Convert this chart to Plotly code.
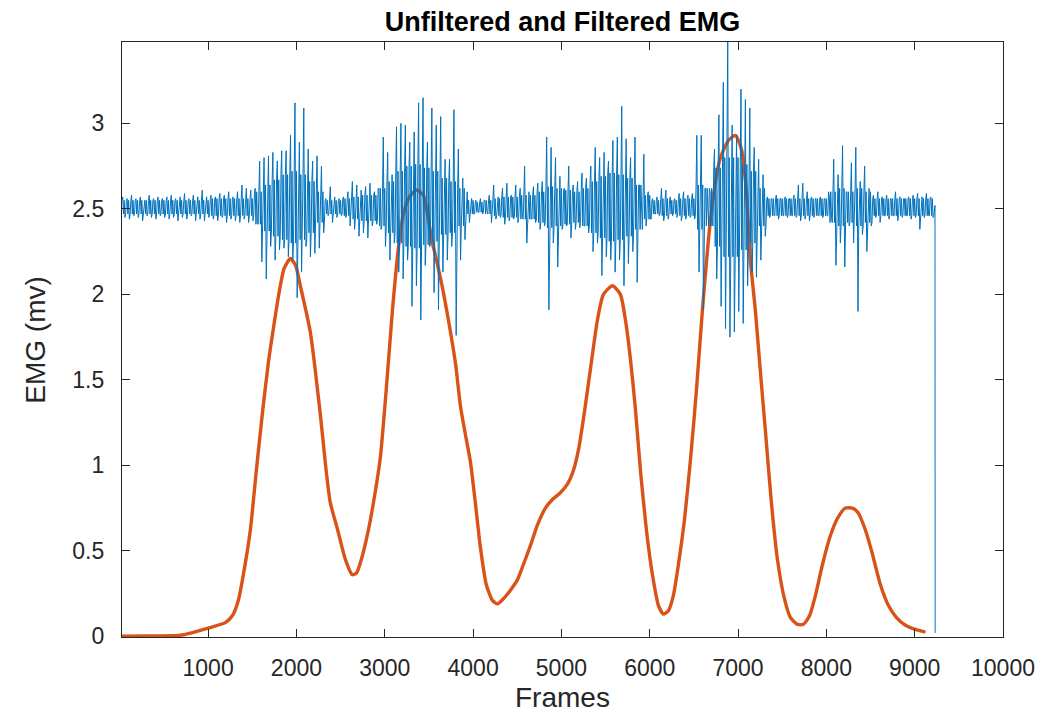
import plotly.graph_objects as go

# ---------------- data ----------------
# Filtered EMG envelope (orange): frame -> mV
filt_frames = [25, 300, 685, 1014, 1195, 1274, 1342, 1399, 1478, 1546, 1614, 1682, 1742,
               1800, 1860, 1931, 1990, 2044, 2157, 2270, 2330, 2384, 2463, 2554, 2633,
               2680, 2724, 2814, 2894, 2951, 3018, 3086, 3154, 3211, 3280, 3360, 3437,
               3490, 3536, 3573, 3649, 3724, 3800, 3856, 3913, 3970, 4026, 4083, 4151,
               4219, 4276, 4344, 4423, 4502, 4570, 4649, 4728, 4819, 4898, 4989, 5068,
               5136, 5193, 5249, 5328, 5408, 5476, 5578, 5668, 5725, 5782, 5838, 5895,
               5963, 6031, 6099, 6155, 6212, 6268, 6325, 6393, 6461, 6529, 6597, 6665,
               6733, 6801, 6891, 6970, 7038, 7095, 7140, 7197, 7253, 7310, 7378, 7446,
               7525, 7593, 7673, 7741, 7809, 7877, 7956, 8046, 8137, 8216, 8295, 8363,
               8443, 8522, 8613, 8703, 8794, 8896, 9009, 9122]
filt_values = [0.00, 0.002, 0.006, 0.05, 0.08, 0.12, 0.21, 0.36, 0.62, 0.97, 1.30, 1.60, 1.81,
               2.00, 2.15, 2.21, 2.17, 2.05, 1.78, 1.30, 1.00, 0.78, 0.63, 0.45, 0.36,
               0.37, 0.43, 0.62, 0.85, 1.05, 1.45, 1.90, 2.27, 2.47, 2.57, 2.61, 2.58,
               2.45, 2.31, 2.23, 2.05, 1.84, 1.60, 1.35, 1.18, 1.02, 0.78, 0.52, 0.30,
               0.21, 0.19, 0.22, 0.27, 0.33, 0.42, 0.53, 0.65, 0.75, 0.80, 0.84, 0.89,
               0.97, 1.09, 1.27, 1.56, 1.85, 2.00, 2.05, 2.00, 1.85, 1.62, 1.33, 0.97,
               0.62, 0.36, 0.18, 0.13, 0.15, 0.24, 0.42, 0.68, 1.03, 1.44, 1.91, 2.32,
               2.62, 2.80, 2.90, 2.93, 2.85, 2.60, 2.20, 1.90, 1.55, 1.20, 0.78, 0.45,
               0.22, 0.11, 0.07, 0.07, 0.12, 0.24, 0.42, 0.59, 0.70, 0.75, 0.75, 0.72,
               0.62, 0.48, 0.30, 0.18, 0.11, 0.065, 0.04, 0.025]

# Unfiltered EMG (blue): per 50-frame window starting at frame 25,
# the highest and lowest spike
raw_window_start = 25
raw_window_len = 50
raw_hi = [
    2.57, 2.56, 2.58, 2.56, 2.57, 2.55, 2.58, 2.56, 2.57, 2.56,
    2.57, 2.58, 2.56, 2.57, 2.59, 2.56, 2.58, 2.57, 2.61, 2.57,
    2.58, 2.57, 2.59, 2.58, 2.60, 2.57, 2.60, 2.64, 2.62, 2.61,
    2.62, 2.78, 2.80, 2.81, 2.83, 2.78, 2.84, 2.84, 2.93, 3.12,
    2.89, 3.09, 2.85, 2.78, 2.81, 2.75, 2.56, 2.63, 2.57, 2.56,
    2.57, 2.60, 2.66, 2.64, 2.61, 2.63, 2.65, 2.60, 2.62, 2.92,
    2.83, 2.70, 2.98, 3.00, 2.99, 2.89, 2.95, 3.12, 3.15, 2.89,
    3.09, 2.99, 3.04, 2.79, 2.79, 3.08, 2.85, 2.68, 2.60, 2.56,
    2.55, 2.56, 2.55, 2.58, 2.64, 2.57, 2.62, 2.65, 2.58, 2.64,
    2.62, 2.75, 2.60, 2.63, 2.65, 2.66, 2.92, 2.86, 2.80, 2.69,
    2.62, 2.75, 2.64, 2.66, 2.71, 2.68, 2.75, 2.86, 2.80, 2.83,
    2.78, 2.90, 2.92, 3.10, 2.91, 2.80, 2.92, 2.64, 2.82, 2.60,
    2.56, 2.57, 2.62, 2.61, 2.57, 2.56, 2.59, 2.60, 2.58, 2.59,
    2.93, 2.93, 2.62, 2.60, 2.85, 3.05, 3.24, 3.49, 2.99, 2.93,
    3.20, 3.14, 3.09, 2.86, 2.79, 2.70, 2.57, 2.56, 2.58, 2.56,
    2.57, 2.56, 2.58, 2.64, 2.65, 2.60, 2.57, 2.56, 2.57, 2.56,
    2.57, 2.79, 2.70, 2.87, 2.60, 2.77, 2.86, 2.66, 2.75, 2.62,
    2.58, 2.60, 2.57, 2.58, 2.56, 2.60, 2.57, 2.56, 2.57, 2.58,
    2.59, 2.57, 2.59, 2.57,
]
raw_lo = [
    2.45, 2.44, 2.46, 2.45, 2.43, 2.46, 2.45, 2.44, 2.46, 2.45,
    2.44, 2.45, 2.43, 2.45, 2.44, 2.46, 2.43, 2.44, 2.43, 2.45,
    2.44, 2.43, 2.45, 2.42, 2.44, 2.43, 2.42, 2.44, 2.42, 2.43,
    2.42, 2.19, 2.09, 2.28, 2.20, 2.26, 2.27, 2.22, 2.20, 1.98,
    2.13, 2.28, 2.22, 2.24, 2.27, 2.36, 2.46, 2.42, 2.45, 2.46,
    2.45, 2.40, 2.38, 2.34, 2.36, 2.33, 2.40, 2.41, 2.38, 2.28,
    2.20, 2.30, 2.13, 2.09, 2.20, 1.93, 2.05, 1.85, 2.17, 2.28,
    2.01, 1.91, 2.13, 2.20, 2.28, 1.76, 2.20, 2.32, 2.42, 2.47,
    2.48, 2.47, 2.48, 2.42, 2.44, 2.45, 2.41, 2.43, 2.44, 2.42,
    2.45, 2.30, 2.44, 2.42, 2.38, 2.40, 1.91, 2.30, 2.16, 2.38,
    2.40, 2.33, 2.38, 2.39, 2.40, 2.36, 2.25, 2.30, 2.11, 2.22,
    2.20, 2.13, 2.20, 2.05, 2.18, 2.25, 2.07, 2.38, 2.40, 2.44,
    2.47, 2.46, 2.43, 2.44, 2.46, 2.45, 2.43, 2.44, 2.45, 2.44,
    2.13, 1.91, 2.40, 2.42, 2.09, 1.93, 1.80, 1.75, 1.78, 1.90,
    1.83, 2.05, 2.13, 2.10, 2.20, 2.34, 2.45, 2.46, 2.44, 2.46,
    2.45, 2.46, 2.45, 2.43, 2.44, 2.43, 2.45, 2.46, 2.45, 2.46,
    2.45, 2.17, 2.30, 2.16, 2.40, 2.30, 1.90, 2.35, 2.25, 2.40,
    2.45, 2.42, 2.46, 2.44, 2.46, 2.43, 2.45, 2.46, 2.44, 2.45,
    2.38, 2.45, 2.46, 2.45,
]
# extent of the dense core of the raw signal, per 100-frame segment
raw_core_len = 100
raw_core_hi = [
    2.55, 2.55, 2.55, 2.55, 2.55, 2.55, 2.55, 2.55, 2.55, 2.55,
    2.56, 2.56, 2.56, 2.56, 2.56,
    2.60, 2.64, 2.67, 2.70, 2.72, 2.70, 2.66, 2.60, 2.55, 2.55,
    2.56, 2.57, 2.58, 2.58, 2.62, 2.66, 2.72, 2.75, 2.76, 2.74,
    2.72, 2.68, 2.66, 2.62, 2.55, 2.54, 2.55, 2.56, 2.57, 2.57,
    2.58, 2.58, 2.60, 2.63, 2.62, 2.61, 2.60, 2.62, 2.66, 2.69,
    2.71, 2.70, 2.68, 2.64, 2.58, 2.55, 2.56, 2.55, 2.56, 2.56,
    2.64, 2.62, 2.74, 2.80, 2.80, 2.76, 2.72, 2.62, 2.56, 2.56,
    2.56, 2.56, 2.56, 2.56, 2.56, 2.60, 2.62, 2.60, 2.62, 2.60,
    2.56, 2.56, 2.56, 2.56, 2.56, 2.56, 2.56,
]
raw_core_lo = [
    2.47, 2.47, 2.47, 2.47, 2.47, 2.47, 2.47, 2.47, 2.47, 2.47,
    2.46, 2.46, 2.46, 2.46, 2.46,
    2.41, 2.37, 2.34, 2.32, 2.30, 2.32, 2.36, 2.42, 2.47, 2.47,
    2.46, 2.44, 2.43, 2.43, 2.40, 2.36, 2.30, 2.28, 2.27, 2.29,
    2.31, 2.35, 2.36, 2.40, 2.47, 2.48, 2.47, 2.46, 2.45, 2.45,
    2.44, 2.44, 2.42, 2.39, 2.40, 2.41, 2.42, 2.40, 2.36, 2.33,
    2.31, 2.32, 2.34, 2.38, 2.44, 2.47, 2.46, 2.47, 2.46, 2.46,
    2.38, 2.40, 2.28, 2.22, 2.22, 2.26, 2.30, 2.40, 2.46, 2.46,
    2.46, 2.46, 2.46, 2.46, 2.46, 2.42, 2.40, 2.42, 2.40, 2.42,
    2.46, 2.46, 2.46, 2.46, 2.46, 2.46, 2.46,
]
# final samples: recording drops to ~0 at the end
raw_end_frames = [9230, 9232]
raw_end_values = [2.52, 0.02]

x_ticks = [1000, 2000, 3000, 4000, 5000, 6000, 7000, 8000, 9000, 10000]
y_ticks = [0, 0.5, 1, 1.5, 2, 2.5, 3]
y_tick_text = ["0", "0.5", "1", "1.5", "2", "2.5", "3"]

title_text = "Unfiltered and Filtered EMG"
x_label = "Frames"
y_label = "EMG (mv)"

# ---------------- build raw trace: core oscillation with the read spikes ----------------
raw_x, raw_y = [], []
step = raw_window_len / 6.0
for k, (hi, lo) in enumerate(zip(raw_hi, raw_lo)):
    start = raw_window_start + k * raw_window_len
    seg = min((start - raw_window_start) // raw_core_len, len(raw_core_hi) - 1)
    c_hi, c_lo = raw_core_hi[seg], raw_core_lo[seg]
    vals = [c_hi, hi, c_lo, c_hi, lo, c_lo]
    for i, v in enumerate(vals):
        raw_x.append(start + i * step)
        raw_y.append(v)
raw_x += raw_end_frames
raw_y += raw_end_values

FONT = "Liberation Sans, Arial, Helvetica, sans-serif"
AX_COLOR = "#262626"

# page body adds an 8px offset, so the figure is 8px smaller than the window
W, H = 1039, 704

fig = go.Figure()
fig.add_trace(go.Scatter(x=filt_frames, y=filt_values, mode="lines",
                         line=dict(color="#D95319", width=3.4, shape="spline", smoothing=0.6),
                         hoverinfo="skip", showlegend=False))
fig.add_trace(go.Scatter(x=raw_x, y=raw_y, mode="lines",
                         line=dict(color="#0072BD", width=1.0),
                         hoverinfo="skip", showlegend=False))

axis_common = dict(showgrid=False, zeroline=False, showline=True, linecolor=AX_COLOR,
                   linewidth=1.3, mirror="ticks", ticks="inside", ticklen=8,
                   tickcolor=AX_COLOR, tickwidth=1.3,
                   tickfont=dict(family=FONT, size=23, color=AX_COLOR))

fig.update_xaxes(range=[25, 10000], tickvals=x_ticks,
                 ticktext=[str(v) for v in x_ticks], ticklabelstandoff=10, **axis_common)
fig.update_yaxes(range=[-0.004, 3.476], tickvals=y_ticks, ticktext=y_tick_text,
                 ticklabelstandoff=12, **axis_common)

fig.update_layout(
    width=W, height=H,
    margin=dict(l=114, r=42, t=34, b=75),
    paper_bgcolor="white", plot_bgcolor="white",
    title=dict(text="<b>" + title_text + "</b>", x=0.5, xref="paper", xanchor="center",
               y=1 - 14 / H, yref="container", yanchor="middle",
               font=dict(family=FONT, size=27, color="#000000")),
    annotations=[
        dict(text=x_label, xref="paper", yref="paper", x=0.5, y=-0.101,
             xanchor="center", yanchor="middle", showarrow=False,
             font=dict(family=FONT, size=28, color=AX_COLOR)),
        dict(text=y_label, xref="paper", yref="paper", x=-0.0985, y=0.5,
             xanchor="center", yanchor="middle", showarrow=False, textangle=-90,
             font=dict(family=FONT, size=28, color=AX_COLOR)),
    ],
)

fig.write_html("out.html")
